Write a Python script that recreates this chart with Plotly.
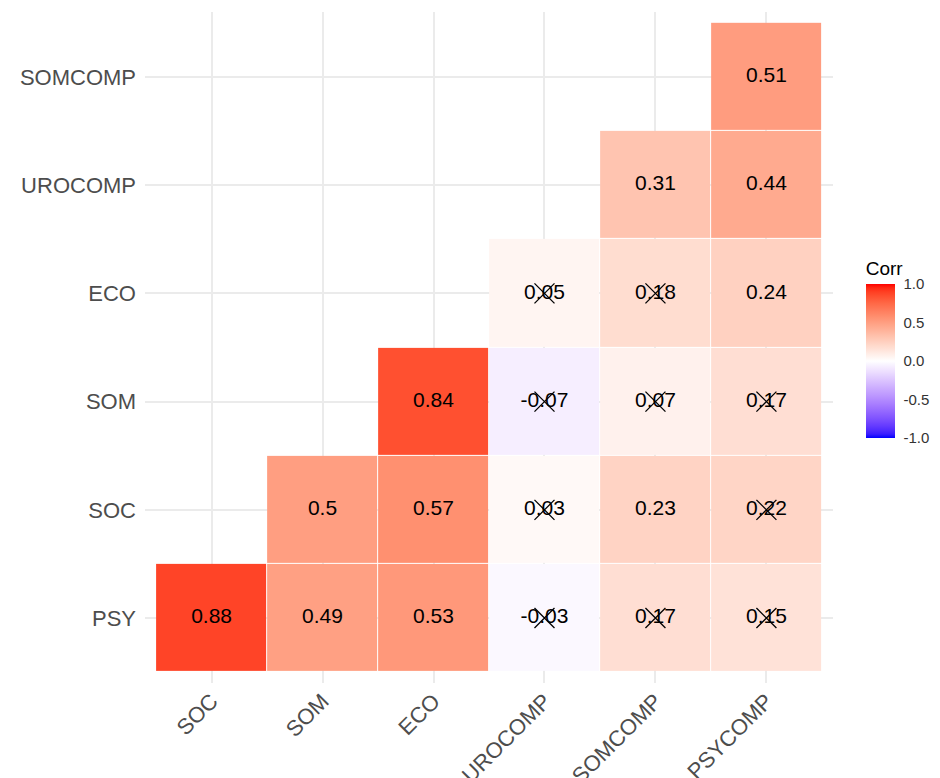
import plotly.graph_objects as go

# ---- data ----
x_vars = ["SOC", "SOM", "ECO", "UROCOMP", "SOMCOMP", "PSYCOMP"]
y_vars = ["PSY", "SOC", "SOM", "ECO", "UROCOMP", "SOMCOMP"]  # bottom to top

corr_PSY = [0.88, 0.49, 0.53, -0.03, 0.17, 0.15]
corr_SOC = [None, 0.50, 0.57, 0.03, 0.23, 0.22]
corr_SOM = [None, None, 0.84, -0.07, 0.07, 0.17]
corr_ECO = [None, None, None, 0.05, 0.18, 0.24]
corr_UROCOMP = [None, None, None, None, 0.31, 0.44]
corr_SOMCOMP = [None, None, None, None, None, 0.51]

# insignificant (crossed) cells
insig_PSY = [False, False, False, True, True, True]
insig_SOC = [False, False, False, True, False, True]
insig_SOM = [False, False, False, True, True, True]
insig_ECO = [False, False, False, True, True, False]
insig_UROCOMP = [False, False, False, False, False, False]
insig_SOMCOMP = [False, False, False, False, False, False]

z = [corr_PSY, corr_SOC, corr_SOM, corr_ECO, corr_UROCOMP, corr_SOMCOMP]
insig = [insig_PSY, insig_SOC, insig_SOM, insig_ECO, insig_UROCOMP, insig_SOMCOMP]

# ---- colour scale: blue-white-red interpolated in Lab (like ggplot gradient2) ----
M = [[0.4124564, 0.3575761, 0.1804375],
     [0.2126729, 0.7151522, 0.0721750],
     [0.0193339, 0.1191920, 0.9503041]]
Minv = [[3.2404542, -1.5371385, -0.4985314],
        [-0.9692660, 1.8760108, 0.0415560],
        [0.0556434, -0.2040259, 1.0572252]]
WN = (0.95047, 1.0, 1.08883)


def to_lab(rgb):
    lin = []
    for c in rgb:
        c = c / 255
        lin.append(c / 12.92 if c <= 0.04045 else ((c + 0.055) / 1.055) ** 2.4)
    xyz = [sum(M[i][j] * lin[j] for j in range(3)) / WN[i] for i in range(3)]
    f = [t ** (1 / 3) if t > 0.008856 else 7.787 * t + 16 / 116 for t in xyz]
    return (116 * f[1] - 16, 500 * (f[0] - f[1]), 200 * (f[1] - f[2]))


def from_lab(lab):
    L, a, b = lab
    fy = (L + 16) / 116
    fx = fy + a / 500
    fz = fy - b / 200

    def finv(t):
        return t ** 3 if t ** 3 > 0.008856 else (t - 16 / 116) / 7.787
    xyz = [finv(fx) * WN[0], finv(fy) * WN[1], finv(fz) * WN[2]]
    out = []
    for i in range(3):
        c = sum(Minv[i][j] * xyz[j] for j in range(3))
        c = 12.92 * c if c <= 0.0031308 else 1.055 * (c ** (1 / 2.4)) - 0.055
        out.append(int(round(min(max(c, 0), 1) * 255)))
    return "rgb(%d,%d,%d)" % tuple(out)


lab_lo, lab_mid, lab_hi = to_lab((0, 0, 255)), to_lab((255, 255, 255)), to_lab((255, 0, 0))
colorscale = []
N = 40
for k in range(N + 1):
    t = k / N
    if t <= 0.5:
        u = t / 0.5
        lab = tuple(lab_lo[i] + (lab_mid[i] - lab_lo[i]) * u for i in range(3))
    else:
        u = (t - 0.5) / 0.5
        lab = tuple(lab_mid[i] + (lab_hi[i] - lab_mid[i]) * u for i in range(3))
    colorscale.append([t, from_lab(lab)])

# ---- labels & crosses ----
tx, ty, tt, cx, cy = [], [], [], [], []
for r, yv in enumerate(y_vars):
    for c, xv in enumerate(x_vars):
        v = z[r][c]
        if v is None:
            continue
        tx.append(xv)
        ty.append(yv)
        tt.append(str(round(v, 2)))
        if insig[r][c]:
            cx.append(xv)
            cy.append(yv)

FONT = "Liberation Sans, Arial, sans-serif"

fig = go.Figure()
fig.add_trace(go.Heatmap(
    x=x_vars, y=y_vars, z=z, zmin=-1, zmax=1, colorscale=colorscale,
    xgap=1, ygap=1, hoverinfo="skip",
    colorbar=dict(
        title=dict(text="Corr", side="top", font=dict(size=19, color="#000000", family=FONT)),
        x=1.046, xanchor="left", xpad=0, ypad=0,
        y=0.499, yanchor="middle", len=180, lenmode="pixels",
        thickness=29, thicknessmode="pixels", outlinewidth=0,
        tickvals=[-1, -0.5, 0, 0.5, 1], ticktext=["-1.0", "-0.5", "0.0", "0.5", "1.0"],
        ticks="outside", ticklen=6, tickcolor="white", tickwidth=1,
        tickfont=dict(size=15, color="#333333", family=FONT),
    ),
))
fig.add_trace(go.Scatter(
    x=tx, y=ty, text=tt, mode="text", hoverinfo="skip", showlegend=False,
    textfont=dict(size=21, color="black", family=FONT),
))
fig.add_trace(go.Scatter(
    x=cx, y=cy, mode="markers", hoverinfo="skip", showlegend=False,
    marker=dict(symbol="x-thin-open", size=20, color="black",
                line=dict(width=1.3, color="black")),
))

fig.update_layout(
    width=940, height=778,
    margin=dict(l=145, r=106, t=12, b=95),
    paper_bgcolor="white", plot_bgcolor="white",
    showlegend=False,
    font=dict(family=FONT),
)
fig.update_xaxes(
    type="category", categoryorder="array", categoryarray=x_vars,
    range=[-0.6, 5.6], automargin=False, showgrid=True, gridcolor="#ebebeb", gridwidth=2,
    zeroline=False, showline=False, ticks="", tickangle=-45,
    tickfont=dict(size=22, color="#4d4d4d", family=FONT),
)
fig.update_yaxes(
    type="category", categoryorder="array", categoryarray=y_vars,
    range=[-0.6, 5.6], automargin=False, showgrid=True, gridcolor="#ebebeb", gridwidth=2,
    zeroline=False, showline=False, ticks="", ticklabelstandoff=8,
    tickfont=dict(size=22, color="#4d4d4d", family=FONT),
)

fig.write_html("out.html")
